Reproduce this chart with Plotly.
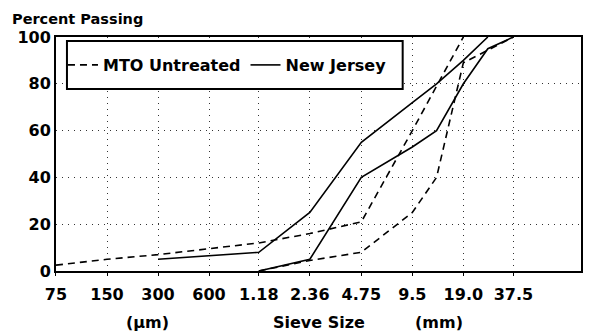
import plotly.graph_objects as go

# Sieve sizes in mm (log axis)
tick_sizes = [0.075, 0.15, 0.3, 0.6, 1.18, 2.36, 4.75, 9.5, 19.0, 37.5]
tick_labels = ["75", "150", "300", "600", "1.18", "2.36", "4.75", "9.5", "19.0", "37.5"]

# MTO Untreated envelope (dashed)
mto_upper_x = [0.075, 0.15, 0.3, 0.6, 1.18, 2.36, 4.75, 9.5, 19.0]
mto_upper_y = [2.5, 5, 7, 9.5, 12, 16, 21, 60, 100]
mto_lower_x = [1.18, 2.36, 4.75, 9.5, 13.2, 19.0, 37.5]
mto_lower_y = [0, 4.5, 8, 25, 40, 89, 100]

# New Jersey envelope (solid)
nj_upper_x = [0.3, 0.6, 1.18, 2.36, 4.75, 9.5, 13.2, 19.0, 26.5]
nj_upper_y = [5, 6.5, 8, 25, 55, 72, 80, 90, 100]
nj_lower_x = [1.18, 2.36, 4.75, 9.5, 13.2, 19.0, 26.5, 37.5]
nj_lower_y = [0, 5, 40, 53, 60, 80, 95, 100]

FONT = "DejaVu Sans"
LW = 1.6
DASH = "7px,5px"

fig = go.Figure()
fig.add_trace(go.Scatter(x=mto_upper_x, y=mto_upper_y, mode="lines", name="MTO Untreated",
                         line=dict(color="black", width=LW, dash=DASH), legendgroup="mto"))
fig.add_trace(go.Scatter(x=mto_lower_x, y=mto_lower_y, mode="lines", name="MTO Untreated",
                         line=dict(color="black", width=LW, dash=DASH), legendgroup="mto", showlegend=False))
fig.add_trace(go.Scatter(x=nj_upper_x, y=nj_upper_y, mode="lines", name="New Jersey",
                         line=dict(color="black", width=LW), legendgroup="nj"))
fig.add_trace(go.Scatter(x=nj_lower_x, y=nj_lower_y, mode="lines", name="New Jersey",
                         line=dict(color="black", width=LW), legendgroup="nj", showlegend=False))

W, H = 591, 333
L, R, T, B = 56, 8, 37, 62
pw, ph = W - L - R, H - T - B

def px(xp):
    return (xp - L) / pw

def py(yp):
    return (H - B - yp) / ph

fig.update_layout(
    width=W, height=H,
    margin=dict(l=L, r=R, t=T, b=B),
    paper_bgcolor="white", plot_bgcolor="white",
    font=dict(family=FONT, size=16, color="black", weight="bold"),
    showlegend=True,
    legend=dict(orientation="h", x=px(63), y=py(65), xanchor="left", yanchor="middle",
                bgcolor="rgba(0,0,0,0)", borderwidth=0, itemwidth=30,
                font=dict(family=FONT, size=16, weight="bold", color="black")),
    xaxis=dict(type="log", range=[-1.1249, 1.973], tickvals=tick_sizes, ticktext=tick_labels,
               showgrid=True, gridcolor="#333", griddash="1px,5px", gridwidth=1.2,
               showline=True, linecolor="black", linewidth=2, mirror=True,
               ticks="outside", ticklen=3, tickcolor="black", ticklabelstandoff=5,
               tickfont=dict(family=FONT, size=16, weight="bold"), zeroline=False),
    yaxis=dict(range=[0, 100], tickvals=[0, 20, 40, 60, 80, 100],
               showgrid=True, gridcolor="#333", griddash="1px,5px", gridwidth=1.2,
               showline=True, linecolor="black", linewidth=2, mirror=True,
               ticks="", tickfont=dict(family=FONT, size=16, weight="bold"), zeroline=False),
    shapes=[dict(type="rect", xref="paper", yref="paper",
                 x0=px(67), x1=px(404), y0=py(89), y1=py(41),
                 line=dict(color="black", width=2), fillcolor="white", layer="above")],
    annotations=[
        dict(text="Percent Passing", xref="paper", yref="paper", x=px(10), y=py(19),
             xanchor="left", yanchor="middle", showarrow=False,
             font=dict(family=FONT, size=14.5, weight="bold")),
        dict(text="(μm)", xref="paper", yref="paper", x=px(148), y=py(322),
             xanchor="center", yanchor="middle", showarrow=False,
             font=dict(family=FONT, size=16, weight="bold")),
        dict(text="Sieve Size", xref="paper", yref="paper", x=px(320), y=py(322),
             xanchor="center", yanchor="middle", showarrow=False,
             font=dict(family=FONT, size=16, weight="bold")),
        dict(text="(mm)", xref="paper", yref="paper", x=px(440), y=py(322),
             xanchor="center", yanchor="middle", showarrow=False,
             font=dict(family=FONT, size=16, weight="bold")),
    ],
)

fig.write_html("out.html", config={"displayModeBar": False},
               post_script="document.body.style.margin='0';document.body.style.overflow='hidden';")
